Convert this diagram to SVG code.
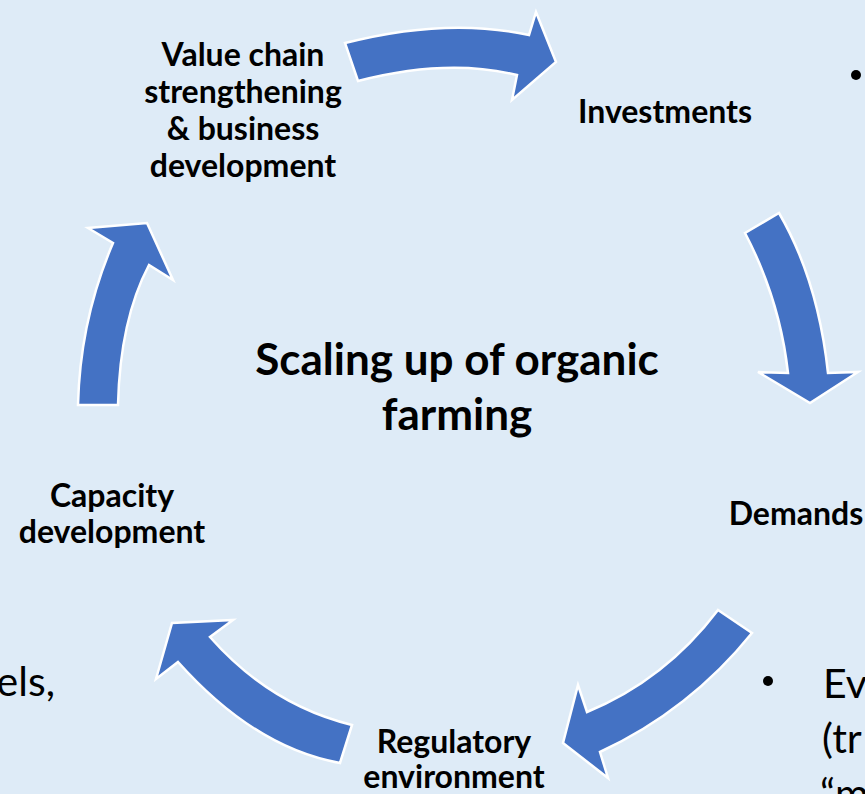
<svg xmlns="http://www.w3.org/2000/svg" width="865" height="794" viewBox="0 0 865 794">
<style>
.bg{fill:#DEEBF7}
.arr{fill:#4472C4;stroke:#FFFFFF;stroke-width:2.5;stroke-linejoin:miter}
.lbl{font-family:Lato,"Liberation Sans",sans-serif;font-weight:bold;font-size:32px;fill:#000;text-anchor:middle}
.title{font-family:Lato,"Liberation Sans",sans-serif;font-weight:bold;font-size:44px;fill:#000;text-anchor:middle}
.body{font-family:Lato,"Liberation Sans",sans-serif;font-size:41px;fill:#000}
</style>
<rect class="bg" x="0" y="0" width="865" height="794"/>
<g id="connectors">
<path class="arr" d="M345,43 Q447,17 529,35 L536,12 L556,62 L512,100 L517,75 Q447,58 358,81 Z"/>
<path class="arr" d="M745,233 L779,213 Q818,280 828,373 L858,372 L810,403 L758,372 L788,373 Q780,300 745,233 Z"/>
<path class="arr" d="M718,610 L752,633 Q690,710 600,752 L608,778 L563,743 L578,685 L587,712 Q665,680 718,610 Z"/>
<path class="arr" d="M352,725 L340,763 Q255,748 178,662 L156,679 L172,623 L233,620 L210,637 Q270,705 352,725 Z"/>
<path class="arr" d="M78,405 L118,405 Q120,320 149,265 L173,280 L147,223 L88,228 L113,243 Q80,320 78,405 Z"/>
</g>
<g id="node-center">
<text class="title" x="457" y="375">Scaling up of organic</text>
<text class="title" x="457" y="430">farming</text>
</g>
<g id="node-value-chain">
<text class="lbl" x="243" y="66">Value chain</text>
<text class="lbl" x="243" y="103">strengthening</text>
<text class="lbl" x="243" y="140">&amp; business</text>
<text class="lbl" x="243" y="177">development</text>
</g>
<g id="node-investments">
<text class="lbl" x="665" y="123">Investments</text>
</g>
<g id="node-demands">
<text class="lbl" x="796" y="525">Demands</text>
</g>
<g id="node-regulatory">
<text class="lbl" x="454" y="753">Regulatory</text>
<text class="lbl" x="454" y="788">environment</text>
</g>
<g id="node-capacity">
<text class="lbl" x="112" y="507">Capacity</text>
<text class="lbl" x="112" y="543">development</text>
</g>
<g id="side-text">
<circle cx="856" cy="75" r="5" fill="#000"/>
<text class="body" x="55" y="696" text-anchor="end">els,</text>
<circle cx="768" cy="681" r="5" fill="#000"/>
<text class="body" x="823" y="698">Ev</text>
<text class="body" x="822" y="753">(tr</text>
<text class="body" x="820" y="808">“m</text>
</g>
</svg>
